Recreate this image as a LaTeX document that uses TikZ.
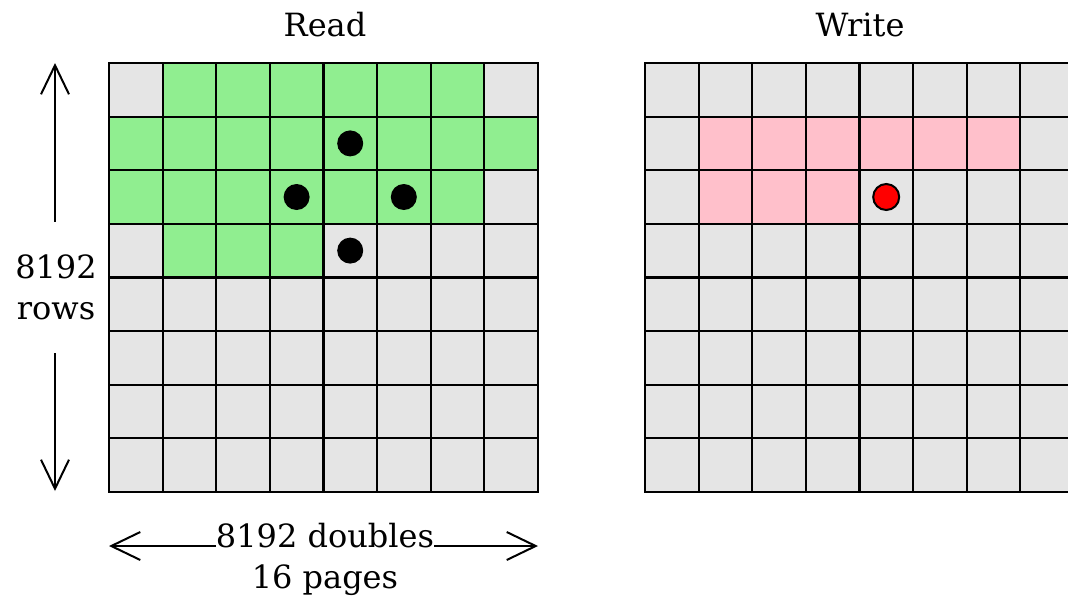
\documentclass[tikz,border=0pt]{standalone}
\usepackage{fontspec}
\setmainfont{DejaVu Serif}
\usetikzlibrary{arrows.meta,positioning}
\definecolor{Cgrey}{HTML}{E5E5E5}
\definecolor{Cgreen}{HTML}{90EE90}
\definecolor{Cpink}{HTML}{FFC0CB}
\definecolor{Cred}{HTML}{FF0000}
\newcommand{\cellsz}{53.6}
\tikzset{
  cell/.style={rectangle, fill=Cgrey, minimum size=53.6pt, inner sep=0pt, outer sep=0pt},
  gridline/.style={draw=black, line width=2.2pt, line cap=rect},
  bigdot/.style={circle, fill=black, minimum size=26pt, inner sep=0pt},
  reddot/.style={circle, fill=Cred, draw=black, line width=2pt, minimum size=26pt, inner sep=0pt},
  lbl/.style={font=\fontsize{32}{41}\selectfont, inner sep=0pt, align=center},
  arr/.style={line width=2pt, -{Straight Barb[length=29pt, width=28pt]}}
}
\begin{document}
\begin{tikzpicture}[x=1pt, y=-1pt]
  \useasboundingbox (0,0) rectangle (1068,595);
  \clip (0,0) rectangle (1068,595);
  % read grid
  \begin{scope}[shift={(109,63)}]
    \foreach \r in {0,...,7}
      \foreach \c in {0,...,7}
        \node[cell] (R-\r-\c) at ({(\c+0.5)*\cellsz},{(\r+0.5)*\cellsz}) {};
    \foreach \c in {1,...,6} \node[cell, fill=Cgreen] (GA-\c) at (R-0-\c) {};
    \foreach \c in {0,...,7} \node[cell, fill=Cgreen] (GB-\c) at (R-1-\c) {};
    \foreach \c in {0,...,6} \node[cell, fill=Cgreen] (GC-\c) at (R-2-\c) {};
    \foreach \c in {1,...,3} \node[cell, fill=Cgreen] (GD-\c) at (R-3-\c) {};
    \foreach \i in {0,...,8} {
      \draw[gridline] ({\i*\cellsz},0) -- ({\i*\cellsz},{8*\cellsz});
      \draw[gridline] (0,{\i*\cellsz}) -- ({8*\cellsz},{\i*\cellsz});
    }
    \node[bigdot] (dn) at (R-1-4) {};
    \node[bigdot] (dw) at (R-2-3) {};
    \node[bigdot] (de) at (R-2-5) {};
    \node[bigdot] (ds) at (R-3-4) {};
  \end{scope}
  % write grid
  \begin{scope}[shift={(645,63)}]
    \foreach \r in {0,...,7}
      \foreach \c in {0,...,7}
        \node[cell] (W-\r-\c) at ({(\c+0.5)*\cellsz},{(\r+0.5)*\cellsz}) {};
    \foreach \c in {1,...,6} \node[cell, fill=Cpink] (PA-\c) at (W-1-\c) {};
    \foreach \c in {1,...,3} \node[cell, fill=Cpink] (PB-\c) at (W-2-\c) {};
    \foreach \i in {0,...,8} {
      \draw[gridline] ({\i*\cellsz},0) -- ({\i*\cellsz},{8*\cellsz});
      \draw[gridline] (0,{\i*\cellsz}) -- ({8*\cellsz},{\i*\cellsz});
    }
    \node[reddot] (dw) at (W-2-4) {};
  \end{scope}
  % titles
  \node[lbl, anchor=base] (read) at (325,36) {Read};
  \node[lbl, anchor=base] (write) at (860,36) {Write};
  % size labels
  \coordinate (rtop) at (55,63);
  \coordinate (rbot) at (55,491);
  \node[lbl, inner ysep=33pt] (rows) at (56,287.5) {8192\\rows};
  \draw[arr] (rows.north -| rtop) -- (rtop);
  \draw[arr] (rows.south -| rbot) -- (rbot);
  \coordinate (cleft) at (109,546);
  \coordinate (cright) at (538,546);
  \node[lbl, anchor=base] (dbl) at (325,547) {8192 doubles};
  \node[lbl, anchor=base] (pages) at (325,588) {16 pages};
  \draw[arr] (dbl.west |- cleft) -- (cleft);
  \draw[arr] (dbl.east |- cright) -- (cright);
\end{tikzpicture}
\end{document}
